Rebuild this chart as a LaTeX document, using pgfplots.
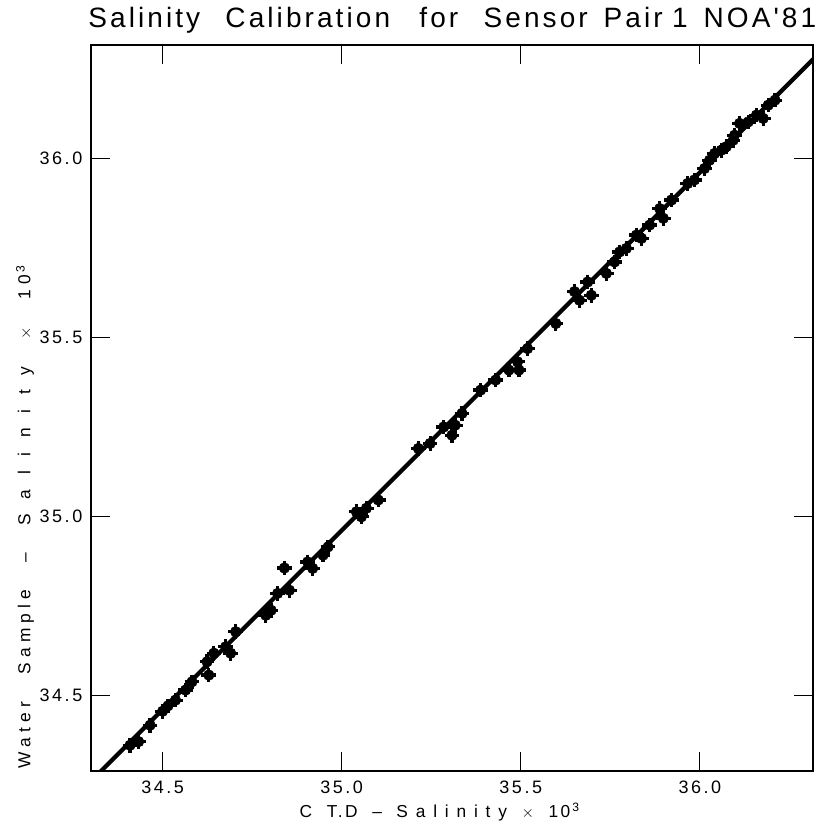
\documentclass[border=0pt]{standalone}
\usepackage{fontspec}
\setmainfont{Liberation Sans}
\newfontfamily\lsT[LetterSpace=11]{Liberation Sans}
\newfontfamily\lsA[LetterSpace=14]{Liberation Sans}
\newfontfamily\lsY[LetterSpace=30]{Liberation Sans}
\newfontfamily\lsB[LetterSpace=45]{Liberation Sans}
\newfontfamily\lsC[LetterSpace=85]{Liberation Sans}
\usepackage{pgfplots}
\usepackage{pgfplotstable}
\pgfplotsset{compat=1.18}
\pgfplotstableread{
x y
34.409 34.360
34.433 34.370
34.465 34.416
34.500 34.455
34.515 34.470
34.536 34.486
34.564 34.514
34.582 34.537
34.624 34.593
34.629 34.556
34.643 34.617
34.676 34.635
34.690 34.617
34.704 34.677
34.788 34.723
34.803 34.737
34.821 34.784
34.840 34.855
34.854 34.793
34.905 34.872
34.919 34.854
34.948 34.891
34.962 34.914
35.041 35.012
35.055 34.998
35.069 35.022
35.102 35.045
35.214 35.189
35.247 35.203
35.285 35.249
35.308 35.226
35.317 35.254
35.336 35.287
35.388 35.352
35.430 35.380
35.467 35.408
35.491 35.431
35.495 35.408
35.519 35.468
35.598 35.538
35.650 35.627
35.664 35.603
35.687 35.654
35.697 35.617
35.739 35.678
35.762 35.710
35.776 35.738
35.795 35.748
35.823 35.785
35.837 35.776
35.860 35.813
35.888 35.859
35.898 35.832
35.921 35.883
35.966 35.929
35.985 35.939
36.013 35.971
36.027 35.994
36.041 36.013
36.060 36.022
36.074 36.032
36.093 36.050
36.097 36.064
36.111 36.097
36.135 36.101
36.158 36.120
36.177 36.111
36.191 36.148
36.210 36.162
}\pts
\pgfplotstableread{
x y
34.20 34.16
36.40 36.36
}\fitline
\begin{document}
\begin{tikzpicture}
\useasboundingbox (-68.25pt,-45.75pt) rectangle (543.75pt,578.25pt);
\begin{axis}[
  scale only axis,
  width=541.5pt, height=544.5pt,
  xmin=34.30, xmax=36.316,
  ymin=34.288, ymax=36.316,
  xtick={34.5,35.0,35.5,36.0},
  ytick={34.5,35.0,35.5,36.0},
  tick align=inside,
  major tick length=14pt,
  tick style={line width=0.8pt, black},
  axis line style={line width=1pt},
  xticklabel pos=bottom, yticklabel pos=left,
  xtick pos=both, ytick pos=both,
  /pgf/number format/.cd, fixed, fixed zerofill, precision=1, assume math mode=true,
  /pgfplots/.cd,
  xticklabel style={font=\lsA\fontsize{13.5}{15}\selectfont, yshift=-4pt},
  yticklabel style={font=\lsA\fontsize{13.5}{15}\selectfont, xshift=-3pt},
  title={Salinity\hspace{19pt}Calibration\hspace{22pt}for\hspace{19pt}Sensor\hspace{12pt}Pair\hspace{7pt}1\hspace{12pt}NOA'81},
  title style={at={(axis description cs:-0.004,1.0124)}, anchor=base west, inner sep=0pt, font=\lsT\fontsize{21}{23}\selectfont},
  xlabel={\makebox[210pt][s]{C\hfil T.D\hfil \textendash\hfil {\lsB Salinity}\hfil $\times$\hfil 10\textsuperscript{\,3}}},
  xlabel style={at={(axis description cs:0.483,-0.0565)}, anchor=center, font=\lsA\fontsize{13}{15}\selectfont},
  ylabel={\makebox[377pt][s]{Water\hfil Sample\hfil \textendash\hfil {\lsC Salinity}\hfil $\times$\hfil 10\textsuperscript{\,3}}},
  ylabel style={at={(axis description cs:-0.0914,0.35)}, anchor=center, font=\lsY\fontsize{13}{15}\selectfont},
]
\addplot[black, line width=3.2pt] table {\fitline};
\addplot[only marks, mark=*, mark size=4pt, black] table {\pts};
\addplot[only marks, mark=+, mark size=5.5pt, black, mark options={line width=2.4pt}] table {\pts};
\end{axis}
\end{tikzpicture}
\end{document}
